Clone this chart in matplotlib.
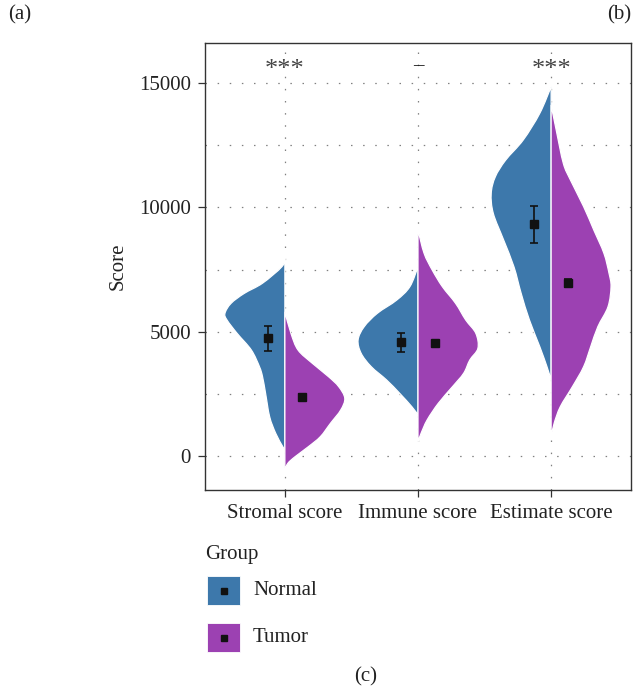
import matplotlib
matplotlib.use("Agg")
import matplotlib.pyplot as plt
from matplotlib.patches import Rectangle, PathPatch
from matplotlib.path import Path
import numpy as np

plt.rcParams['font.family'] = ['Liberation Serif', 'DejaVu Serif']

# ---------------- data ----------------
categories = ["Stromal score", "Immune score", "Estimate score"]
groups = ["Normal", "Tumor"]
colors = {"Normal": "#3D78AB", "Tumor": "#9C41B2"}
signif = ["***", "\u2013", "***"]

# violin half profiles: score levels (top -> bottom) and relative width
stromal_normal_y = [7960, 7610, 6950, 6540, 6140, 5740, 5470, 4930, 4260, 3590, 3190, 2520, 1580, 910, 370, 240]
stromal_normal_w = [0, 3, 22, 40, 53, 59, 57, 47, 33, 25, 22, 19, 15, 9, 2, 0]
stromal_tumor_y = [5800, 4930, 4260, 3730, 3190, 2790, 2320, 1850, 1320, 780, 370, -30, -290, -560]
stromal_tumor_w = [0, 6, 13, 27, 43, 53, 59, 55, 45, 35, 23, 10, 3, 0]

immune_normal_y = [7610, 6810, 6270, 5740, 5200, 4670, 4130, 3590, 3060, 2520, 1980, 1650]
immune_normal_w = [0, 8, 21, 40, 53, 59, 56, 46, 31, 18, 6, 0]
immune_tumor_y = [9090, 8150, 7480, 6810, 6140, 5470, 4930, 4330, 3860, 3330, 2790, 2120, 1450, 910, 580]
immune_tumor_w = [0, 6, 14, 24, 37, 47, 57, 59, 51, 45, 34, 20, 9, 3, 0]

estimate_normal_y = [14850, 13780, 12710, 11900, 11230, 10560, 9760, 8690, 7610, 6540, 5470, 4400, 3590, 3060]
estimate_normal_w = [0, 11, 27, 44, 54, 58, 56, 46, 36, 29, 21, 11, 4, 0]
estimate_tumor_y = [14120, 13110, 11770, 11100, 10030, 9090, 8150, 7350, 6810, 6000, 5200, 4400, 3590, 2790, 1980, 1320, 780]
estimate_tumor_w = [0, 5, 12, 19, 32, 42, 52, 57, 59, 56, 46, 39, 32, 21, 9, 3, 0]

profiles = {
    ("Stromal score", "Normal"): (stromal_normal_y, stromal_normal_w),
    ("Stromal score", "Tumor"): (stromal_tumor_y, stromal_tumor_w),
    ("Immune score", "Normal"): (immune_normal_y, immune_normal_w),
    ("Immune score", "Tumor"): (immune_tumor_y, immune_tumor_w),
    ("Estimate score", "Normal"): (estimate_normal_y, estimate_normal_w),
    ("Estimate score", "Tumor"): (estimate_tumor_y, estimate_tumor_w),
}

# mean and error bar bounds
normal_mean = [4730, 4570, 9320]
normal_low = [4220, 4200, 8550]
normal_high = [5230, 4930, 10070]
tumor_mean = [2390, 4530, 6970]
tumor_low = [2300, 4450, 6800]
tumor_high = [2480, 4610, 7130]

# ---------------- figure ----------------
W, H = 636, 695
fig = plt.figure(figsize=(W / 100, H / 100), dpi=100)
fig.patch.set_facecolor("white")

def fx(x):
    return x / W

def fy(y):
    return 1 - y / H

ax = fig.add_axes([fx(205), fy(490), fx(631) - fx(205), fy(43) - fy(490)])
ax.set_xlim(0.4, 3.6)
ax.set_ylim(-1367, 16609)

FS = 15
half = 0.45
xs = np.arange(1, len(categories) + 1)


def smooth_half_path(px, py, xc):
    """Closed path: smooth outline through (px, py) then back along centre line."""
    P = np.column_stack([px, py])
    n = len(P)
    verts = [P[0]]
    codes = [Path.MOVETO]
    for i in range(n - 1):
        p0 = P[i - 1] if i > 0 else P[i]
        p1 = P[i]
        p2 = P[i + 1]
        p3 = P[i + 2] if i + 2 < n else P[i + 1]
        c1 = p1 + (p2 - p0) / 6.0
        c2 = p2 - (p3 - p1) / 6.0
        verts += [c1, c2, p2]
        codes += [Path.CURVE4] * 3
    verts += [(xc, py[-1]), (xc, py[0]), P[0]]
    codes += [Path.LINETO, Path.LINETO, Path.CLOSEPOLY]
    return Path(np.array(verts), codes)


for i, cat in enumerate(categories):
    xc = xs[i]
    for g in groups:
        yv, wv = profiles[(cat, g)]
        wv = np.asarray(wv, float)
        wv = wv / wv.max() * half
        yv = np.asarray(yv, float)
        sign = -1 if g == "Normal" else 1
        path = smooth_half_path(xc + sign * wv, yv, xc)
        ax.add_patch(PathPatch(path, facecolor=colors[g], edgecolor="white", lw=0.9, zorder=2))

off = 0.125
for means, lows, highs, sign in [(normal_mean, normal_low, normal_high, -1), (tumor_mean, tumor_low, tumor_high, 1)]:
    m = np.array(means)
    lo = m - np.array(lows)
    hi = np.array(highs) - m
    ax.errorbar(xs + sign * off, m, yerr=[lo, hi], fmt="s", color="#111111", ms=5.5,
                elinewidth=1.2, capsize=3.0, capthick=1.2, zorder=4)

for i, s in enumerate(signif):
    if s == "***":
        ax.text(xs[i], 15530, s, ha="center", va="center", fontsize=19, color="#444444", zorder=5)
    else:
        ax.text(xs[i], 15720, s, ha="center", va="center", fontsize=FS, color="#111111", zorder=5)

# axes / grid
ax.set_yticks([0, 5000, 10000, 15000])
ax.set_yticks([2500, 7500, 12500], minor=True)
ax.set_xticks(xs)
ax.set_xticklabels(categories)
ax.set_yticklabels(["0", "5000", "10000", "15000"])
ax.grid(True, which="both", axis="y", color="#808080", lw=0.9, linestyle=(0, (1.2, 8.5)), zorder=0)
ax.grid(True, which="major", axis="x", color="#808080", lw=0.9, linestyle=(0, (1.2, 8.5)), zorder=0)
ax.set_axisbelow(True)
ax.tick_params(axis="both", which="major", direction="out", length=5, width=0.9, color="#333333",
               labelsize=FS, labelcolor="#222222", pad=5)
ax.tick_params(axis="y", which="minor", length=0)
for sp in ax.spines.values():
    sp.set_color("#333333")
    sp.set_linewidth(1.0)
ax.set_ylabel("Score", fontsize=FS, color="#222222", labelpad=8)

# legend (drawn manually)
fig.text(fx(205), fy(555), "Group", fontsize=FS, ha="left", va="center", color="#222222")
for g, yc in [("Normal", 590.5), ("Tumor", 637.5)]:
    fig.patches.append(Rectangle((fx(207), fy(yc + 14.5)), fx(240) - fx(207), fy(yc - 14.5) - fy(yc + 14.5),
                                 transform=fig.transFigure, facecolor=colors[g], edgecolor="white", lw=0.6))
    fig.add_artist(plt.Line2D([fx(223.5)], [fy(yc)], marker="s", ms=4.5, color="#111111",
                              transform=fig.transFigure, ls="none"))
    fig.text(fx(253), fy(yc), g, fontsize=FS, ha="left", va="center", color="#222222")

fig.text(fx(8), fy(15), "(a)", fontsize=FS, ha="left", va="center", color="#222222")
fig.text(fx(631), fy(15), "(b)", fontsize=FS, ha="right", va="center", color="#222222")
fig.text(fx(366), fy(677), "(c)", fontsize=FS, ha="center", va="center", color="#222222")

fig.savefig("out.png", dpi=100)
